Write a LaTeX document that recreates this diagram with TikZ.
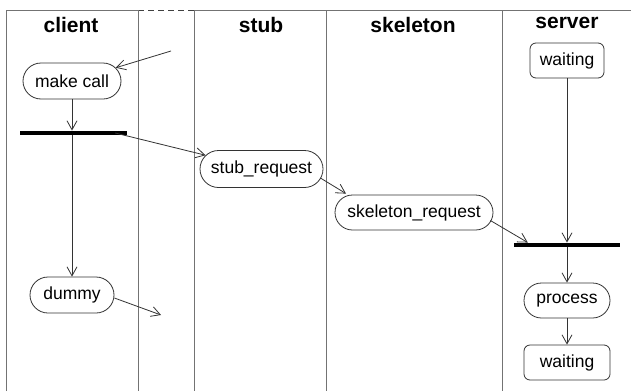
\documentclass[tikz,border=0pt]{standalone}
\usepackage{fontspec}
\setmainfont{Liberation Sans}
\usetikzlibrary{arrows.meta,shapes.misc,calc}

\begin{document}
\begin{tikzpicture}[x=1pt,y=-1pt,
  lane/.style={draw=black!55,line width=0.9pt},
  title/.style={font=\fontsize{21}{24}\selectfont\bfseries,anchor=base,inner sep=0pt},
  activity/.style={rounded rectangle,draw=black!80,line width=0.8pt,minimum height=36pt,
    inner sep=0pt,font=\fontsize{17.5}{20}\selectfont},
  statebox/.style={rectangle,rounded corners=6pt,draw=black!80,line width=0.8pt,
    minimum height=35pt,inner sep=0pt,font=\fontsize{17.5}{20}\selectfont},
  syncbar/.style={rectangle,fill=black,inner sep=0pt,minimum height=4.5pt},
  flow/.style={draw=black!80,line width=0.8pt,-{Straight Barb[length=9pt,width=10pt]}},
]
\useasboundingbox (0,0) rectangle (631,391);
\fill[white] (0,0) rectangle (631,391);

% swimlanes
\draw[lane] (6,391) -- (6,10) -- (138,10);
\draw[lane,draw=black!75,dash pattern=on 6pt off 4pt] (138,10) -- (194,10);
\draw[lane] (194,10) -- (631,10);
\foreach \lx in {138,194,326,502}
  \draw[lane] (\lx,10) -- (\lx,391);

% lane titles
\node[title] (tclient) at (71,32) {client};
\node[title] (tstub) at (261,32) {stub};
\node[title] (tskel) at (413,32) {skeleton};
\node[title] (tserver) at (567,28) {server};

% client lane
\node[activity,minimum width=98pt] (mc) at (72,81) {make call};
\node[syncbar,minimum width=107pt] (cbar) at (73.5,133) {};
\node[activity,minimum width=84pt] (dummy) at (72,295) {dummy};
\coordinate (cin) at (171,51);
\coordinate (dout) at (161,315);

% stub and skeleton lanes
\node[activity,minimum width=123pt,minimum height=37pt] (sreq) at (261.5,169) {stub\_request};
\node[activity,minimum width=158pt,minimum height=35pt] (kreq) at (414,212.5) {skeleton\_request};

% server lane
\node[statebox,minimum width=74pt] (w1) at (567,60.5) {waiting};
\node[syncbar,minimum width=106pt] (sbar) at (567,245) {};
\node[activity,minimum width=86pt,minimum height=35pt] (proc) at (567,300.5) {process};
\node[statebox,minimum width=86pt] (w2) at (567,362.5) {waiting};

% transitions
\draw[flow] (cin) -- (mc);
\draw[flow] (mc.south) -- (mc.south |- cbar.north);
\draw[flow] (cbar.south -| dummy.north) -- (dummy.north);
\draw[flow] ($(cbar.east)+(-12,0)$) -- (sreq);
\draw[flow] ($(dummy.east)+(0,3)$) -- (dout);
\draw[flow] ($(sreq.east)+(-3,9)$) -- ($(kreq.north)+(-68,-1)$);
\draw[flow] ($(kreq.east)+(-3,8)$) -- ($(sbar.north west)+(14,0)$);
\draw[flow] (w1.south) -- (sbar.north);
\draw[flow] (sbar.south) -- (proc.north);
\draw[flow] (proc.south) -- (w2.north);
\end{tikzpicture}
\end{document}
